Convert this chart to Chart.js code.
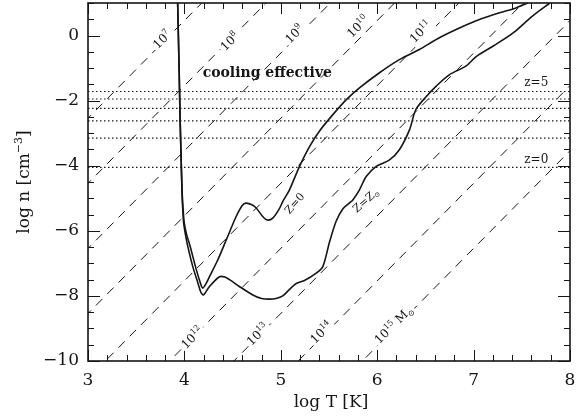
<!DOCTYPE html>
<html><head><meta charset="utf-8">
<script src="https://cdn.jsdelivr.net/npm/chart.js@4/dist/chart.umd.min.js"></script>
<style>html,body{margin:0;padding:0;background:#fff}#wrap{width:576px;height:417px}</style>
</head><body><div id="wrap"><canvas id="c" width="576" height="417"></canvas></div>
<script>
// ---- data ----
const zeroMetalT = [3.93,3.945,3.955,3.968,3.978,3.988,3.998,4.022,4.06,4.115,4.16,4.19,4.225,4.26,4.347,4.434,4.537,4.60,4.641,4.70,4.745,4.81,4.86,4.917,4.985,5.02,5.09,5.194,5.298,5.40,5.54,5.68,5.816,6.02,6.23,6.437,6.645,6.853,7.06,7.27,7.44,7.56];
const zeroMetalN = [1.0,-1.0,-2.5,-4.0,-4.9,-5.4,-5.75,-6.1,-6.48,-7.1,-7.55,-7.76,-7.62,-7.41,-6.89,-6.28,-5.56,-5.22,-5.15,-5.2,-5.30,-5.55,-5.67,-5.61,-5.32,-5.1,-4.74,-4.02,-3.41,-2.94,-2.43,-1.97,-1.61,-1.15,-0.74,-0.43,-0.07,0.23,0.49,0.70,0.85,1.0];
const solarT = [3.93,3.945,3.955,3.968,3.976,3.984,3.992,4.01,4.035,4.087,4.14,4.17,4.198,4.26,4.364,4.42,4.468,4.57,4.71,4.80,4.883,4.95,5.02,5.09,5.16,5.25,5.367,5.436,5.505,5.575,5.643,5.71,5.747,5.816,5.886,5.99,6.128,6.23,6.335,6.40,6.51,6.61,6.75,6.92,7.03,7.20,7.41,7.61,7.79];
const solarN = [1.0,-1.0,-2.5,-4.0,-4.9,-5.4,-5.75,-6.1,-6.48,-7.1,-7.6,-7.88,-7.97,-7.71,-7.41,-7.42,-7.5,-7.71,-7.97,-8.08,-8.10,-8.08,-8.0,-7.8,-7.62,-7.52,-7.30,-7.10,-6.35,-5.70,-5.33,-5.15,-5.05,-4.74,-4.33,-4.02,-3.82,-3.51,-2.9,-2.28,-1.87,-1.56,-1.20,-0.94,-0.64,-0.33,0.08,0.60,1.0];
// constant-mass lines: log n = 3 log T + intercept
const massExponents = ['7','8','9','10','11','12','13','14','15'];
const massIntercepts = [-11.54,-13.54,-15.54,-17.54,-19.54,-21.54,-23.54,-25.54,-27.54];
const massLabelT = [3.77,4.47,5.14,5.80,6.45,4.08,4.76,5.42,6.17];
const massLabelN = [-0.12,-0.18,0.05,0.28,0.12,-9.28,-9.18,-9.12,-8.88];
// redshift density levels (z = 5 ... 0)
const redshiftLevels = [-1.72,-1.95,-2.24,-2.62,-3.15,-4.05];
const redshiftLabels = ['z=5','z=0'];
const redshiftLabelT = [7.65,7.65];
const redshiftLabelN = [-1.42,-3.78];
const xTicks = [3,4,5,6,7,8];
const yTicks = [0,-2,-4,-6,-8,-10];

const INK = '#151515';
const toPts = (xs, ys) => xs.map((v,i)=>({x:v, y:ys[i]}));

const datasets = [];
massIntercepts.forEach(c => {
  datasets.push({data:[{x:2.5,y:3*2.5+c},{x:8.5,y:3*8.5+c}], borderColor:INK, borderWidth:1, borderDash:[9,7], pointRadius:0, tension:0, order:3});
});
redshiftLevels.forEach(v => {
  datasets.push({data:[{x:3,y:v},{x:8,y:v}], borderColor:INK, borderWidth:1.2, borderDash:[1.5,2.5], pointRadius:0, tension:0, order:3});
});
datasets.push({data:toPts(zeroMetalT,zeroMetalN), borderColor:INK, borderWidth:1.6, pointRadius:0, tension:0.3, order:1});
datasets.push({data:toPts(solarT,solarN), borderColor:INK, borderWidth:1.6, pointRadius:0, tension:0.3, order:1});

function drawRich(ctx, parts, x, y, align, bg){
  let w = 0;
  parts.forEach(p => { ctx.font = p.f; p.w = ctx.measureText(p.t).width; w += p.w; });
  let sx = align==='center' ? x - w/2 : x;
  if (bg){ ctx.fillStyle='#fff'; ctx.fillRect(sx-2, y-bg[0], w+4, bg[0]+bg[1]); }
  ctx.fillStyle = INK; ctx.textBaseline='alphabetic'; ctx.textAlign='left';
  parts.forEach(p => { ctx.font = p.f; ctx.fillText(p.t, sx, y + (p.dy||0)); sx += p.w; });
}

const decor = {
  id:'decor',
  afterDatasetsDraw(chart){
    const {ctx, chartArea:a, scales:{x,y}} = chart;
    ctx.save();
    ctx.strokeStyle = INK;
    // ticks on all four sides, pointing inward
    ctx.lineWidth = 1;
    ctx.beginPath();
    for (let i=0;i<=25;i++){
      const v = 3 + i*0.2; const major = i%5===0; const L = major?11:6;
      const px = Math.round(x.getPixelForValue(v))+0.5;
      ctx.moveTo(px,a.bottom); ctx.lineTo(px,a.bottom-L);
      ctx.moveTo(px,a.top); ctx.lineTo(px,a.top+L);
    }
    for (let i=0;i<=22;i++){
      const v = -10 + i*0.5; const major = i%4===0; const L = major?12:6;
      const py = Math.round(y.getPixelForValue(v))+0.5;
      ctx.moveTo(a.left,py); ctx.lineTo(a.left+L,py);
      ctx.moveTo(a.right,py); ctx.lineTo(a.right-L,py);
    }
    ctx.stroke();
    ctx.lineWidth = 1.6;
    ctx.strokeRect(a.left, a.top, a.right-a.left, a.bottom-a.top);

    // mass labels along the dashed lines
    massExponents.forEach((e,i) => {
      const px = x.getPixelForValue(massLabelT[i]), py = y.getPixelForValue(massLabelN[i]);
      ctx.save(); ctx.translate(px,py); ctx.rotate(-Math.PI/4);
      const parts = [{t:'10',f:'12px "DejaVu Serif"', dy:4},{t:e,f:'8px "DejaVu Serif"', dy:-1}];
      if (e==='15'){ parts.push({t:' M',f:'12px "DejaVu Serif"',dy:4}); parts.push({t:'\u2299',f:'8px "DejaVu Serif"',dy:7}); }
      drawRich(ctx, parts, 0, 0, 'center', [8,8]);
      ctx.restore();
    });
    // redshift labels
    redshiftLabels.forEach((s,i) => {
      drawRich(ctx, [{t:s, f:'12px "DejaVu Serif"'}], x.getPixelForValue(redshiftLabelT[i]), y.getPixelForValue(redshiftLabelN[i])+4, 'center', [11,3]);
    });
    // curve labels
    ctx.save(); ctx.translate(x.getPixelForValue(5.14), y.getPixelForValue(-5.15)); ctx.rotate(-0.85);
    drawRich(ctx, [{t:'Z=0', f:'11px "DejaVu Serif"'}], 0, 4, 'center', [10,3]);
    ctx.restore();
    ctx.save(); ctx.translate(x.getPixelForValue(5.88), y.getPixelForValue(-5.05)); ctx.rotate(-0.72);
    drawRich(ctx, [{t:'Z=Z', f:'11px "DejaVu Serif"'},{t:'\u2299', f:'7px "DejaVu Serif"', dy:2}], 0, 4, 'center', [10,3]);
    ctx.restore();
    // annotation
    drawRich(ctx, [{t:'cooling effective', f:'bold 14px "DejaVu Serif"'}], x.getPixelForValue(4.86), y.getPixelForValue(-1.11)+5, 'center');
    // axis titles
    drawRich(ctx, [{t:'log T [K]', f:'17px "DejaVu Serif"'}], (a.left+a.right)/2+2, 407, 'center');
    ctx.save(); ctx.translate(29, (a.top+a.bottom)/2); ctx.rotate(-Math.PI/2);
    drawRich(ctx, [{t:'log n [cm', f:'17px "DejaVu Serif"'},{t:'\u22123', f:'11px "DejaVu Serif"', dy:-7},{t:']', f:'17px "DejaVu Serif"'}], 0, 0, 'center');
    ctx.restore();
    ctx.restore();
  }
};

new Chart(document.getElementById('c'), {
  type:'line',
  data:{datasets},
  options:{
    responsive:false, animation:false, devicePixelRatio:1,
    layout:{padding:{top:3,right:6,left:0,bottom:0}},
    plugins:{legend:{display:false}, tooltip:{enabled:false}},
    scales:{
      x:{type:'linear', min:3, max:8,
        grid:{display:false, drawTicks:false}, border:{display:false},
        afterBuildTicks:s=>{ s.ticks = xTicks.map(v=>({value:v})); },
        afterFit:s=>{ s.height = 56; s.paddingLeft = 0; s.paddingRight = 0; },
        ticks:{color:INK, padding:9, font:{family:'DejaVu Serif', size:17}, maxRotation:0, callback:v=>String(v)}},
      y:{type:'linear', min:-10, max:1,
        grid:{display:false, drawTicks:false}, border:{display:false},
        afterBuildTicks:s=>{ s.ticks = yTicks.map(v=>({value:v})); },
        afterFit:s=>{ s.width = 88; s.paddingTop = 0; s.paddingBottom = 0; },
        ticks:{color:INK, padding:9, font:{family:'DejaVu Serif', size:17}, callback:v=> v<0 ? '\u2212'+Math.abs(v) : String(v)}}
    }
  },
  plugins:[decor]
});
</script></body></html>
